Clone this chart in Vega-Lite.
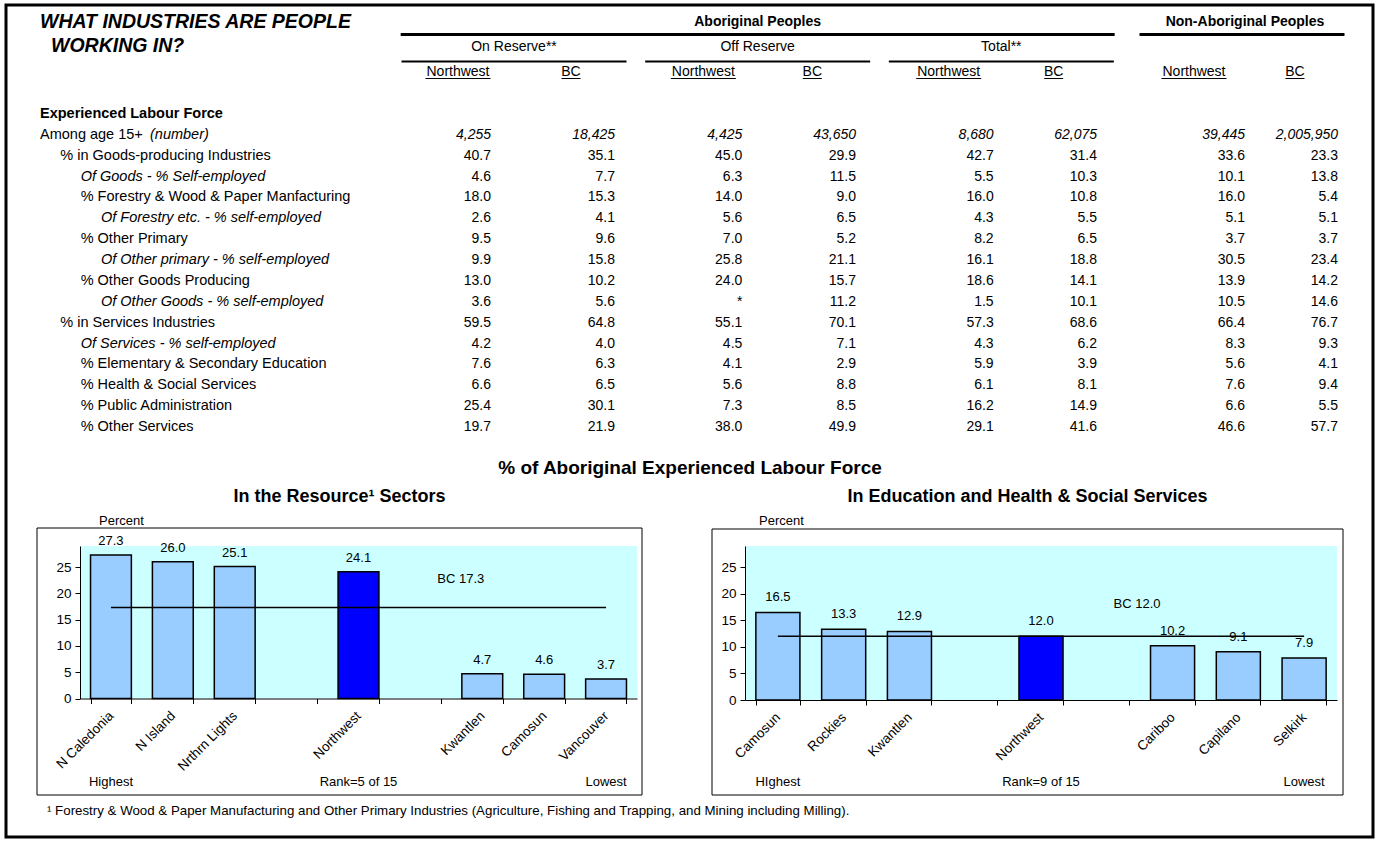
{
  "$schema": "https://vega.github.io/schema/vega-lite/v6.json",
  "width": 1367,
  "height": 832,
  "autosize": {"type": "none"},
  "padding": {"left": 6, "top": 5, "right": 4, "bottom": 5},
  "background": "white",
  "config": {
    "font": "Liberation Sans",
    "view": {"stroke": "black", "strokeWidth": 3},
    "axis": {"labelFont": "Liberation Sans", "titleFont": "Liberation Sans", "domainColor": "black", "tickColor": "black", "labelColor": "black", "titleColor": "black", "grid": false},
    "text": {"font": "Liberation Sans", "color": "black"}
  },
  "datasets": {
    "table": [
      {"row": "Experienced Labour Force", "level": 0, "kind": "heading"},
      {"row": "Among age 15+", "level": 0, "kind": "count", "unit": "(number)", "onNW": "4,255", "onBC": "18,425", "offNW": "4,425", "offBC": "43,650", "totNW": "8,680", "totBC": "62,075", "nonNW": "39,445", "nonBC": "2,005,950"},
      {"row": "% in Goods-producing Industries", "level": 1, "kind": "share", "onNW": "40.7", "onBC": "35.1", "offNW": "45.0", "offBC": "29.9", "totNW": "42.7", "totBC": "31.4", "nonNW": "33.6", "nonBC": "23.3"},
      {"row": "Of Goods - % Self-employed", "level": 2, "kind": "selfemp", "onNW": "4.6", "onBC": "7.7", "offNW": "6.3", "offBC": "11.5", "totNW": "5.5", "totBC": "10.3", "nonNW": "10.1", "nonBC": "13.8"},
      {"row": "% Forestry & Wood & Paper Manfacturing", "level": 2, "kind": "share", "onNW": "18.0", "onBC": "15.3", "offNW": "14.0", "offBC": "9.0", "totNW": "16.0", "totBC": "10.8", "nonNW": "16.0", "nonBC": "5.4"},
      {"row": "Of Forestry etc. - % self-employed", "level": 3, "kind": "selfemp", "onNW": "2.6", "onBC": "4.1", "offNW": "5.6", "offBC": "6.5", "totNW": "4.3", "totBC": "5.5", "nonNW": "5.1", "nonBC": "5.1"},
      {"row": "% Other Primary", "level": 2, "kind": "share", "onNW": "9.5", "onBC": "9.6", "offNW": "7.0", "offBC": "5.2", "totNW": "8.2", "totBC": "6.5", "nonNW": "3.7", "nonBC": "3.7"},
      {"row": "Of Other primary - % self-employed", "level": 3, "kind": "selfemp", "onNW": "9.9", "onBC": "15.8", "offNW": "25.8", "offBC": "21.1", "totNW": "16.1", "totBC": "18.8", "nonNW": "30.5", "nonBC": "23.4"},
      {"row": "% Other Goods Producing", "level": 2, "kind": "share", "onNW": "13.0", "onBC": "10.2", "offNW": "24.0", "offBC": "15.7", "totNW": "18.6", "totBC": "14.1", "nonNW": "13.9", "nonBC": "14.2"},
      {"row": "Of Other Goods - % self-employed", "level": 3, "kind": "selfemp", "onNW": "3.6", "onBC": "5.6", "offNW": "*", "offBC": "11.2", "totNW": "1.5", "totBC": "10.1", "nonNW": "10.5", "nonBC": "14.6"},
      {"row": "% in Services Industries", "level": 1, "kind": "share", "onNW": "59.5", "onBC": "64.8", "offNW": "55.1", "offBC": "70.1", "totNW": "57.3", "totBC": "68.6", "nonNW": "66.4", "nonBC": "76.7"},
      {"row": "Of Services - % self-employed", "level": 2, "kind": "selfemp", "onNW": "4.2", "onBC": "4.0", "offNW": "4.5", "offBC": "7.1", "totNW": "4.3", "totBC": "6.2", "nonNW": "8.3", "nonBC": "9.3"},
      {"row": "% Elementary & Secondary Education", "level": 2, "kind": "share", "onNW": "7.6", "onBC": "6.3", "offNW": "4.1", "offBC": "2.9", "totNW": "5.9", "totBC": "3.9", "nonNW": "5.6", "nonBC": "4.1"},
      {"row": "% Health & Social Services", "level": 2, "kind": "share", "onNW": "6.6", "onBC": "6.5", "offNW": "5.6", "offBC": "8.8", "totNW": "6.1", "totBC": "8.1", "nonNW": "7.6", "nonBC": "9.4"},
      {"row": "% Public Administration", "level": 2, "kind": "share", "onNW": "25.4", "onBC": "30.1", "offNW": "7.3", "offBC": "8.5", "totNW": "16.2", "totBC": "14.9", "nonNW": "6.6", "nonBC": "5.5"},
      {"row": "% Other Services", "level": 2, "kind": "share", "onNW": "19.7", "onBC": "21.9", "offNW": "38.0", "offBC": "49.9", "totNW": "29.1", "totBC": "41.6", "nonNW": "46.6", "nonBC": "57.7"}
    ],
    "headers": [
      {"group": "on", "residence": "On Reserve**", "population": "Aboriginal Peoples"},
      {"group": "off", "residence": "Off Reserve", "population": "Aboriginal Peoples"},
      {"group": "tot", "residence": "Total**", "population": "Aboriginal Peoples"},
      {"group": "non", "residence": "", "population": "Non-Aboriginal Peoples"}
    ],
    "resource": [
      {"college": "N Caledonia", "pct": 27.3},
      {"college": "N Island", "pct": 26.0},
      {"college": "Nrthrn Lights", "pct": 25.1},
      {"college": "Northwest", "pct": 24.1},
      {"college": "Kwantlen", "pct": 4.7},
      {"college": "Camosun", "pct": 4.6},
      {"college": "Vancouver", "pct": 3.7}
    ],
    "eduhealth": [
      {"college": "Camosun", "pct": 16.5},
      {"college": "Rockies", "pct": 13.3},
      {"college": "Kwantlen", "pct": 12.9},
      {"college": "Northwest", "pct": 12.0},
      {"college": "Cariboo", "pct": 10.2},
      {"college": "Capilano", "pct": 9.1},
      {"college": "Selkirk", "pct": 7.9}
    ],
    "bc": [
      {"chart": "resource", "label": "BC 17.3", "pct": 17.3},
      {"chart": "eduhealth", "label": "BC 12.0", "pct": 12.0}
    ],
    "notes": [
      {"chart": "resource", "college": "N Caledonia", "note": "Highest"},
      {"chart": "resource", "college": "Northwest", "note": "Rank=5 of 15"},
      {"chart": "resource", "college": "Vancouver", "note": "Lowest"},
      {"chart": "eduhealth", "college": "Camosun", "note": "HIghest"},
      {"chart": "eduhealth", "college": "Northwest", "note": "Rank=9 of 15"},
      {"chart": "eduhealth", "college": "Selkirk", "note": "Lowest"}
    ]
  },
  "layer": [
    {
      "data": {"values": [{"title": "In the Resource¹ Sectors", "footnote": "¹ Forestry & Wood & Paper Manufacturing and Other Primary Industries (Agriculture, Fishing and Trapping, and Mining including Milling)."}]},
      "layer": [
        {"mark": {"type": "rect", "fill": "white", "stroke": "black", "strokeWidth": 1},
         "encoding": {
           "x": {"datum": 0, "type": "quantitative", "scale": {"domain": [0, 1], "range": [31, 636], "nice": false}, "axis": null},
           "x2": {"datum": 1},
           "y": {"datum": 0, "type": "quantitative", "scale": {"domain": [0, 1], "range": [790, 523], "nice": false}, "axis": null},
           "y2": {"datum": 1}}},
        {"mark": {"type": "text", "fontSize": 18, "fontWeight": "bold", "align": "center", "baseline": "middle", "dy": -31},
         "encoding": {"x": {"datum": 0.5, "type": "quantitative"}, "y": {"datum": 1, "type": "quantitative"}, "text": {"field": "title"}}},
        {"mark": {"type": "text", "fontSize": 13.3, "align": "left", "baseline": "middle", "dx": 10, "dy": 16},
         "encoding": {"x": {"datum": 0, "type": "quantitative"}, "y": {"datum": 0, "type": "quantitative"}, "text": {"field": "footnote"}}}
      ]
    },
    {
      "data": {"values": [{"title": "In Education and Health & Social Services"}]},
      "layer": [
        {"mark": {"type": "rect", "fill": "white", "stroke": "black", "strokeWidth": 1},
         "encoding": {
           "x": {"datum": 0, "type": "quantitative", "scale": {"domain": [0, 1], "range": [706, 1337], "nice": false}, "axis": null},
           "x2": {"datum": 1},
           "y": {"datum": 0, "type": "quantitative", "scale": {"domain": [0, 1], "range": [790, 524], "nice": false}, "axis": null},
           "y2": {"datum": 1}}},
        {"mark": {"type": "text", "fontSize": 18, "fontWeight": "bold", "align": "center", "baseline": "middle", "dy": -32},
         "encoding": {"x": {"datum": 0.5, "type": "quantitative"}, "y": {"datum": 1, "type": "quantitative"}, "text": {"field": "title"}}}
      ]
    },
    {
      "data": {"values": [{"heading": "% of Aboriginal Experienced Labour Force"}]},
      "mark": {"type": "text", "fontSize": 19, "fontWeight": "bold", "align": "center", "baseline": "middle", "dy": -60},
      "encoding": {
        "x": {"datum": 0.5, "type": "quantitative", "scale": {"domain": [0, 1], "range": [31, 1337], "nice": false}, "axis": null},
        "y": {"datum": 1, "type": "quantitative", "scale": {"domain": [0, 1], "range": [790, 523], "nice": false}, "axis": null},
        "text": {"field": "heading"}
      }
    },
    {
      "data": {"values": [{}]},
      "mark": {"type": "rect", "fill": "#CCFFFF"},
      "encoding": {
        "x": {"datum": 0, "type": "quantitative", "scale": {"domain": [0, 1], "range": [74, 631], "nice": false}, "axis": null},
        "x2": {"datum": 1},
        "y": {"datum": 0, "type": "quantitative", "scale": {"domain": [0, 29], "range": [693.5, 541], "nice": false}, "axis": null},
        "y2": {"datum": 29}
      }
    },
    {
      "data": {"values": [{}]},
      "mark": {"type": "rect", "fill": "#CCFFFF"},
      "encoding": {
        "x": {"datum": 0, "type": "quantitative", "scale": {"domain": [0, 1], "range": [739, 1331], "nice": false}, "axis": null},
        "x2": {"datum": 1},
        "y": {"datum": 0, "type": "quantitative", "scale": {"domain": [0, 29], "range": [695, 541], "nice": false}, "axis": null},
        "y2": {"datum": 29}
      }
    },
    {
      "data": {"name": "resource"},
      "layer": [
        {"mark": {"type": "bar", "stroke": "black", "strokeWidth": 1.5},
         "encoding": {
           "x": {"field": "college", "type": "nominal", "sort": null,
                 "scale": {"type": "band", "domain": ["N Caledonia", "N Island", "Nrthrn Lights", " ", "Northwest", "  ", "Kwantlen", "Camosun", "Vancouver"], "range": [74, 631], "paddingInner": 0.34, "paddingOuter": 0.17},
                 "axis": {"orient": "bottom", "offset": -138.5, "title": null, "labelAngle": -45, "labelFontSize": 13.5, "tickBand": "extent", "tickSize": 5, "labelPadding": 5, "labelOffset": -5, "zindex": 2}},
           "y": {"field": "pct", "type": "quantitative",
                 "scale": {"domain": [0, 29], "range": [693.5, 541], "nice": false},
                 "axis": {"orient": "left", "offset": -74, "values": [0, 5, 10, 15, 20, 25], "title": "Percent", "titleAngle": 0, "titleAlign": "center", "titleBaseline": "middle", "titleX": 41, "titleY": 515, "titleFontSize": 13, "titleFontWeight": "normal", "labelFontSize": 13.5, "tickSize": 5, "labelPadding": 4, "zindex": 2}},
           "color": {"condition": {"test": "datum.college === 'Northwest'", "value": "#0000FF"}, "value": "#99CCFF"}
         }},
        {"mark": {"type": "text", "fontSize": 13, "dy": -14, "baseline": "middle", "align": "center"},
         "encoding": {"x": {"field": "college", "type": "nominal"}, "y": {"field": "pct", "type": "quantitative"}, "text": {"field": "pct", "type": "quantitative", "format": ".1f"}}},
        {"data": {"name": "bc"}, "transform": [{"filter": "datum.chart === 'resource'"}],
         "mark": {"type": "rule", "color": "black", "strokeWidth": 1.5},
         "encoding": {"x": {"datum": "N Caledonia"}, "x2": {"datum": "Vancouver"}, "y": {"field": "pct", "type": "quantitative"}}},
        {"data": {"name": "bc"}, "transform": [{"filter": "datum.chart === 'resource'"}],
         "mark": {"type": "text", "fontSize": 13, "align": "right", "baseline": "middle", "dx": 2, "dy": -29},
         "encoding": {"x": {"datum": "Kwantlen"}, "y": {"field": "pct", "type": "quantitative"}, "text": {"field": "label"}}},
        {"data": {"name": "notes"}, "transform": [{"filter": "datum.chart === 'resource'"}],
         "mark": {"type": "text", "fontSize": 13, "align": "center", "baseline": "middle", "dy": 83},
         "encoding": {"x": {"field": "college", "type": "nominal"}, "y": {"datum": 0, "type": "quantitative"}, "text": {"field": "note"}}}
      ]
    },
    {
      "data": {"name": "eduhealth"},
      "layer": [
        {"mark": {"type": "bar", "stroke": "black", "strokeWidth": 1.5},
         "encoding": {
           "x": {"field": "college", "type": "nominal", "sort": null,
                 "scale": {"type": "band", "domain": ["Camosun", "Rockies", "Kwantlen", " ", "Northwest", "  ", "Cariboo", "Capilano", "Selkirk"], "range": [739, 1331], "paddingInner": 0.33, "paddingOuter": 0.165},
                 "axis": {"orient": "bottom", "offset": -137, "title": null, "labelAngle": -45, "labelFontSize": 13.5, "tickBand": "extent", "tickSize": 5, "labelPadding": 5, "labelOffset": -5, "zindex": 2}},
           "y": {"field": "pct", "type": "quantitative",
                 "scale": {"domain": [0, 29], "range": [695, 541], "nice": false},
                 "axis": {"orient": "left", "offset": -739, "values": [0, 5, 10, 15, 20, 25], "title": "Percent", "titleAngle": 0, "titleAlign": "center", "titleBaseline": "middle", "titleX": 36, "titleY": 515, "titleFontSize": 13, "titleFontWeight": "normal", "labelFontSize": 13.5, "tickSize": 5, "labelPadding": 4, "zindex": 2}},
           "color": {"condition": {"test": "datum.college === 'Northwest'", "value": "#0000FF"}, "value": "#99CCFF"}
         }},
        {"mark": {"type": "text", "fontSize": 13, "dy": -15, "baseline": "middle", "align": "center"},
         "encoding": {"x": {"field": "college", "type": "nominal"}, "y": {"field": "pct", "type": "quantitative"}, "text": {"field": "pct", "type": "quantitative", "format": ".1f"}}},
        {"data": {"name": "bc"}, "transform": [{"filter": "datum.chart === 'eduhealth'"}],
         "mark": {"type": "rule", "color": "black", "strokeWidth": 1.5},
         "encoding": {"x": {"datum": "Camosun"}, "x2": {"datum": "Selkirk"}, "y": {"field": "pct", "type": "quantitative"}}},
        {"data": {"name": "bc"}, "transform": [{"filter": "datum.chart === 'eduhealth'"}],
         "mark": {"type": "text", "fontSize": 13, "align": "right", "baseline": "middle", "dx": -12, "dy": -32},
         "encoding": {"x": {"datum": "Cariboo"}, "y": {"field": "pct", "type": "quantitative"}, "text": {"field": "label"}}},
        {"data": {"name": "notes"}, "transform": [{"filter": "datum.chart === 'eduhealth'"}],
         "mark": {"type": "text", "fontSize": 13, "align": "center", "baseline": "middle", "dy": 82},
         "encoding": {"x": {"field": "college", "type": "nominal"}, "y": {"datum": 0, "type": "quantitative"}, "text": {"field": "note"}}}
      ]
    },
    {
      "data": {"values": [{"line1": "WHAT INDUSTRIES ARE PEOPLE", "line2": "WORKING IN?"}]},
      "layer": [
        {"mark": {"type": "text", "fontSize": 19.5, "fontWeight": "bold", "fontStyle": "italic", "align": "left", "baseline": "middle"},
         "encoding": {
           "x": {"datum": 0, "type": "ordinal", "scale": {"type": "point", "domain": [0, 1, 2, 3], "range": [34, 95], "padding": 0}, "axis": null},
           "y": {"datum": "population", "type": "nominal", "scale": {"type": "point", "domain": ["population", "residence", "area"], "range": [17, 67], "padding": 0}, "axis": null},
           "text": {"field": "line1"}}},
        {"mark": {"type": "text", "fontSize": 19.5, "fontWeight": "bold", "fontStyle": "italic", "align": "left", "baseline": "middle", "dx": 11, "dy": -1},
         "encoding": {
           "x": {"datum": 0, "type": "ordinal"},
           "y": {"datum": "residence", "type": "nominal"},
           "text": {"field": "line2"}}}
      ]
    },
    {
      "data": {"name": "table"},
      "layer": [
        {"transform": [{"filter": "datum.kind === 'heading'"}],
         "mark": {"type": "text", "align": "left", "baseline": "middle", "fontSize": 14.5, "fontWeight": "bold"},
         "encoding": {
           "x": {"field": "level", "type": "ordinal", "scale": {"type": "point", "domain": [0, 1, 2, 3], "range": [34, 95], "padding": 0}, "axis": null},
           "y": {"field": "row", "type": "nominal", "sort": null, "scale": {"type": "point", "domain": ["Experienced Labour Force", "Among age 15+", "% in Goods-producing Industries", "Of Goods - % Self-employed", "% Forestry & Wood & Paper Manfacturing", "Of Forestry etc. - % self-employed", "% Other Primary", "Of Other primary - % self-employed", "% Other Goods Producing", "Of Other Goods - % self-employed", "% in Services Industries", "Of Services - % self-employed", "% Elementary & Secondary Education", "% Health & Social Services", "% Public Administration", "% Other Services"], "range": [109, 422], "padding": 0}, "axis": null},
           "text": {"field": "row"}}},
        {"transform": [{"filter": "datum.kind === 'count' || datum.kind === 'share'"}],
         "mark": {"type": "text", "align": "left", "baseline": "middle", "fontSize": 14.5},
         "encoding": {"x": {"field": "level", "type": "ordinal"}, "y": {"field": "row", "type": "nominal"}, "text": {"field": "row"}}},
        {"transform": [{"filter": "datum.kind === 'selfemp'"}],
         "mark": {"type": "text", "align": "left", "baseline": "middle", "fontSize": 14.5, "fontStyle": "italic"},
         "encoding": {"x": {"field": "level", "type": "ordinal"}, "y": {"field": "row", "type": "nominal"}, "text": {"field": "row"}}},
        {"transform": [{"filter": "isValid(datum.unit)"}],
         "mark": {"type": "text", "align": "left", "baseline": "middle", "fontSize": 14.5, "fontStyle": "italic", "dx": 110},
         "encoding": {"x": {"field": "level", "type": "ordinal"}, "y": {"field": "row", "type": "nominal"}, "text": {"field": "unit"}}}
      ]
    },
    {
      "data": {"name": "table"},
      "transform": [
        {"filter": "datum.kind !== 'heading'"},
        {"fold": ["onNW", "offNW", "totNW", "nonNW", "onBC", "offBC", "totBC", "nonBC"], "as": ["column", "value"]}
      ],
      "resolve": {"scale": {"x": "independent"}},
      "layer": [
        {"transform": [{"filter": "datum.kind !== 'count'"}, {"filter": {"field": "column", "oneOf": ["onNW", "offNW", "totNW", "nonNW"]}}],
         "mark": {"type": "text", "align": "right", "baseline": "middle", "fontSize": 14},
         "encoding": {
           "x": {"field": "column", "type": "nominal", "scale": {"type": "point", "domain": ["onNW", "offNW", "totNW", "nonNW"], "range": [485, 1239], "padding": 0}, "axis": null},
           "y": {"field": "row", "type": "nominal", "scale": {"type": "point", "domain": ["Experienced Labour Force", "Among age 15+", "% in Goods-producing Industries", "Of Goods - % Self-employed", "% Forestry & Wood & Paper Manfacturing", "Of Forestry etc. - % self-employed", "% Other Primary", "Of Other primary - % self-employed", "% Other Goods Producing", "Of Other Goods - % self-employed", "% in Services Industries", "Of Services - % self-employed", "% Elementary & Secondary Education", "% Health & Social Services", "% Public Administration", "% Other Services"], "range": [109, 422], "padding": 0}, "axis": null},
           "text": {"field": "value"}}},
        {"transform": [{"filter": "datum.kind === 'count'"}, {"filter": {"field": "column", "oneOf": ["onNW", "offNW", "totNW", "nonNW"]}}],
         "mark": {"type": "text", "align": "right", "baseline": "middle", "fontSize": 14, "fontStyle": "italic"},
         "encoding": {
           "x": {"field": "column", "type": "nominal", "scale": {"type": "point", "domain": ["onNW", "offNW", "totNW", "nonNW"], "range": [485, 1239], "padding": 0}, "axis": null},
           "y": {"field": "row", "type": "nominal"},
           "text": {"field": "value"}}},
        {"transform": [{"filter": "datum.kind !== 'count'"}, {"filter": {"field": "column", "oneOf": ["onBC", "offBC", "totBC", "nonBC"]}}],
         "mark": {"type": "text", "align": "right", "baseline": "middle", "fontSize": 14},
         "encoding": {
           "x": {"field": "column", "type": "nominal", "scale": {"type": "point", "domain": ["onBC", "offBC", "totBC", "nonBC"], "range": [609, 1332], "padding": 0}, "axis": null},
           "y": {"field": "row", "type": "nominal"},
           "text": {"field": "value"}}},
        {"transform": [{"filter": "datum.kind === 'count'"}, {"filter": {"field": "column", "oneOf": ["onBC", "offBC", "totBC", "nonBC"]}}],
         "mark": {"type": "text", "align": "right", "baseline": "middle", "fontSize": 14, "fontStyle": "italic"},
         "encoding": {
           "x": {"field": "column", "type": "nominal", "scale": {"type": "point", "domain": ["onBC", "offBC", "totBC", "nonBC"], "range": [609, 1332], "padding": 0}, "axis": null},
           "y": {"field": "row", "type": "nominal"},
           "text": {"field": "value"}}}
      ]
    },
    {
      "data": {"name": "headers"},
      "resolve": {"scale": {"x": "independent"}},
      "layer": [
        {"transform": [{"filter": "datum.residence !== ''"}],
         "mark": {"type": "text", "fontSize": 14, "align": "center", "baseline": "middle"},
         "encoding": {
           "x": {"field": "group", "type": "nominal", "scale": {"type": "point", "domain": ["on", "off", "tot", "non"], "range": [508, 1239], "padding": 0}, "axis": null},
           "y": {"datum": "residence", "type": "nominal", "scale": {"type": "point", "domain": ["population", "residence", "area"], "range": [17, 67], "padding": 0}, "axis": null},
           "text": {"field": "residence"}}},
        {"transform": [{"filter": "datum.group === 'off' || datum.group === 'non'"}],
         "mark": {"type": "text", "fontSize": 14, "fontWeight": "bold", "align": "center", "baseline": "middle"},
         "encoding": {
           "x": {"field": "group", "type": "nominal", "scale": {"type": "point", "domain": ["on", "off", "tot", "non"], "range": [508, 1239], "padding": 0}, "axis": null},
           "y": {"datum": "population", "type": "nominal"},
           "text": {"field": "population"}}},
        {"transform": [{"filter": "datum.group === 'off'"}],
         "mark": {"type": "tick", "orient": "horizontal", "size": 714, "thickness": 3, "yOffset": 12.5, "color": "black", "opacity": 1},
         "encoding": {
           "x": {"field": "group", "type": "nominal", "scale": {"type": "point", "domain": ["on", "off", "tot", "non"], "range": [508, 1239], "padding": 0}, "axis": null},
           "y": {"datum": "population", "type": "nominal"}}},
        {"transform": [{"filter": "datum.group === 'non'"}],
         "mark": {"type": "tick", "orient": "horizontal", "size": 205, "thickness": 3, "yOffset": 12.5, "color": "black", "opacity": 1},
         "encoding": {
           "x": {"field": "group", "type": "nominal", "scale": {"type": "point", "domain": ["on", "off", "tot", "non"], "range": [505, 1236], "padding": 0}, "axis": null},
           "y": {"datum": "population", "type": "nominal"}}},
        {"transform": [{"filter": "datum.residence !== ''"}],
         "mark": {"type": "tick", "orient": "horizontal", "size": 225, "thickness": 2, "yOffset": 14.5, "color": "black", "opacity": 1},
         "encoding": {
           "x": {"field": "group", "type": "nominal", "scale": {"type": "point", "domain": ["on", "off", "tot", "non"], "range": [508, 1239], "padding": 0}, "axis": null},
           "y": {"datum": "residence", "type": "nominal"}}},
        {"mark": {"type": "text", "fontSize": 14, "align": "center", "baseline": "middle"},
         "encoding": {
           "x": {"field": "group", "type": "nominal", "scale": {"type": "point", "domain": ["on", "off", "tot", "non"], "range": [452, 1188], "padding": 0}, "axis": null},
           "y": {"datum": "area", "type": "nominal"},
           "text": {"value": "Northwest"}}},
        {"mark": {"type": "tick", "orient": "horizontal", "size": 65, "thickness": 1, "yOffset": 6.5, "color": "black", "opacity": 1},
         "encoding": {
           "x": {"field": "group", "type": "nominal", "scale": {"type": "point", "domain": ["on", "off", "tot", "non"], "range": [452, 1188], "padding": 0}, "axis": null},
           "y": {"datum": "area", "type": "nominal"}}},
        {"mark": {"type": "text", "fontSize": 14, "align": "center", "baseline": "middle"},
         "encoding": {
           "x": {"field": "group", "type": "nominal", "scale": {"type": "point", "domain": ["on", "off", "tot", "non"], "range": [565, 1289], "padding": 0}, "axis": null},
           "y": {"datum": "area", "type": "nominal"},
           "text": {"value": "BC"}}},
        {"mark": {"type": "tick", "orient": "horizontal", "size": 19, "thickness": 1, "yOffset": 6.5, "color": "black", "opacity": 1},
         "encoding": {
           "x": {"field": "group", "type": "nominal", "scale": {"type": "point", "domain": ["on", "off", "tot", "non"], "range": [565, 1289], "padding": 0}, "axis": null},
           "y": {"datum": "area", "type": "nominal"}}}
      ]
    }
  ],
  "resolve": {"scale": {"x": "independent", "y": "independent"}, "axis": {"x": "independent", "y": "independent"}}
}
